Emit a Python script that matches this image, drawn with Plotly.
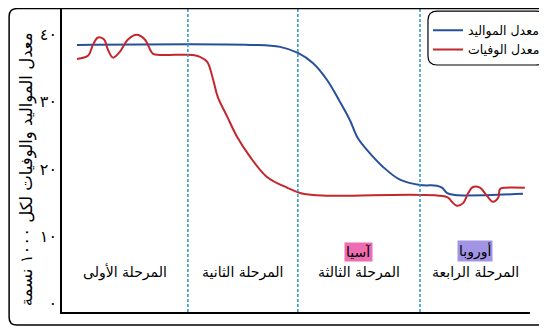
import plotly.graph_objects as go

# time axis: 0..100 across the chart (no real units in the figure)
birth_t = [3.2, 40.2, 46.6, 50.4, 53.6, 56.6, 59.4, 61.5, 63.2, 65.2, 68.6,
           72.2, 76.5, 80.1, 81.2, 82.3, 84.0, 98.5]
birth_rate = [38.5, 38.5, 38.2, 37.3, 35.8, 33.3, 30.0, 27.3, 24.6, 22.8, 20.3,
              18.4, 17.6, 17.5, 17.2, 16.4, 16.1, 16.3]

death_t = [3.2, 5.6, 6.6, 7.7, 9.0, 9.8, 10.9, 12.4, 14.1, 16.0, 17.7, 19.4,
           20.9, 28.0, 29.5, 31.0, 32.3, 33.3, 35.3, 37.4, 40.2, 43.8, 48.1,
           51.5, 57.3, 82.3, 83.3, 84.4, 85.7, 86.8, 87.8, 89.3, 90.8, 92.1,
           93.2, 93.6, 94.7, 98.9]
death_rate = [36.4, 36.9, 38.5, 39.6, 39.3, 37.8, 36.6, 37.5, 39.3, 40.0, 39.3, 37.2,
              37.0, 37.0, 36.7, 36.0, 33.3, 30.7, 27.8, 24.8, 21.8, 18.8, 17.2,
              16.3, 16.0, 15.8, 15.1, 14.5, 14.9, 16.4, 17.3, 17.2, 16.0, 15.1,
              15.7, 17.0, 17.2, 17.2]

stage_bounds = [0, 26.9, 50.4, 76.5, 100]
stage_names = ['المرحلة الأولى', 'المرحلة الثانية', 'المرحلة الثالثة', 'المرحلة الرابعة']
regions = [(2, 'آسيا', '#ee6cb2'), (3, 'أوروبا', '#a294e4')]

y_ticks = [0, 10, 20, 30, 40]
y_tick_text = ['٠', '١٠', '٢٠', '٣٠', '٤٠']

FONT = 'DejaVu Sans'

fig = go.Figure()
fig.add_trace(go.Scatter(x=birth_t, y=birth_rate, mode='lines', name='معدل المواليد',
                         line=dict(color='#27509b', width=2, shape='spline')))
fig.add_trace(go.Scatter(x=death_t, y=death_rate, mode='lines', name='معدل الوفيات',
                         line=dict(color='#c4262e', width=2, shape='spline')))

# stage separators
for b in stage_bounds[1:-1]:
    fig.add_shape(type='line', xref='x', yref='paper', x0=b, x1=b, y0=0, y1=1,
                  line=dict(color='#2a95c8', width=1.5, dash='3px,2px'))

# stage labels under the curves
for i, name in enumerate(stage_names):
    mid = (stage_bounds[i] + stage_bounds[i + 1]) / 2
    fig.add_annotation(x=mid, xref='x', y=0.095, yref='paper', text=name,
                       showarrow=False, font=dict(size=14, color='black'))

for i, txt, col in regions:
    mid = (stage_bounds[i] + stage_bounds[i + 1]) / 2
    fig.add_annotation(x=mid, xref='x', y=0.165, yref='paper', text=txt,
                       showarrow=False, bgcolor=col, borderpad=1,
                       font=dict(size=14, color='black'))

# y axis title
fig.add_annotation(x=-0.1, xref='paper', y=0.47, yref='paper',
                   text='معدل المواليد والوفيات لكل ١٠٠٠ نسمة', textangle=-90,
                   showarrow=False, font=dict(size=16.5, color='black'))

# outer rounded frame and legend box
def rounded(x0, y0, x1, y1, rx, ry):
    return (f'M {x0+rx},{y1} L {x1-rx},{y1} Q {x1},{y1} {x1},{y1-ry} '
            f'L {x1},{y0+ry} Q {x1},{y0} {x1-rx},{y0} L {x0+rx},{y0} '
            f'Q {x0},{y0} {x0},{y0+ry} L {x0},{y1-ry} Q {x0},{y1} {x0+rx},{y1} Z')

fig.add_shape(type='path', xref='paper', yref='paper',
              path=rounded(-0.113, -0.043, 1.04, 0.998, 0.017, 0.026),
              line=dict(color='black', width=1.5))
fig.add_shape(type='path', xref='paper', yref='paper',
              path=rounded(0.782, 0.8125, 1.032, 0.99, 0.02, 0.03),
              line=dict(color='black', width=1.2), fillcolor='white', layer='below')

# the page body adds an 8px offset, so the figure is 8px smaller than the window
fig.update_layout(
    width=539, height=323,
    margin=dict(l=54, r=17, t=0, b=19, autoexpand=False),
    paper_bgcolor='white', plot_bgcolor='white',
    font=dict(family=FONT, color='black'),
    showlegend=True,
    legend=dict(x=0.782, y=0.975, xanchor='left', yanchor='top',
                bgcolor='rgba(0,0,0,0)', borderwidth=0,
                font=dict(size=12.5), itemwidth=30,
                tracegroupgap=0),
    xaxis=dict(range=[0, 100], showgrid=False, zeroline=False, showticklabels=False,
               ticks='', showline=True, linecolor='black', linewidth=1.5),
    yaxis=dict(range=[-1.34, 44.0], showgrid=False, zeroline=False,
               tickvals=y_ticks, ticktext=y_tick_text, ticks='',
               tickfont=dict(size=16), showline=True, linecolor='black', linewidth=1.5),
)

fig.write_html('out.html')
